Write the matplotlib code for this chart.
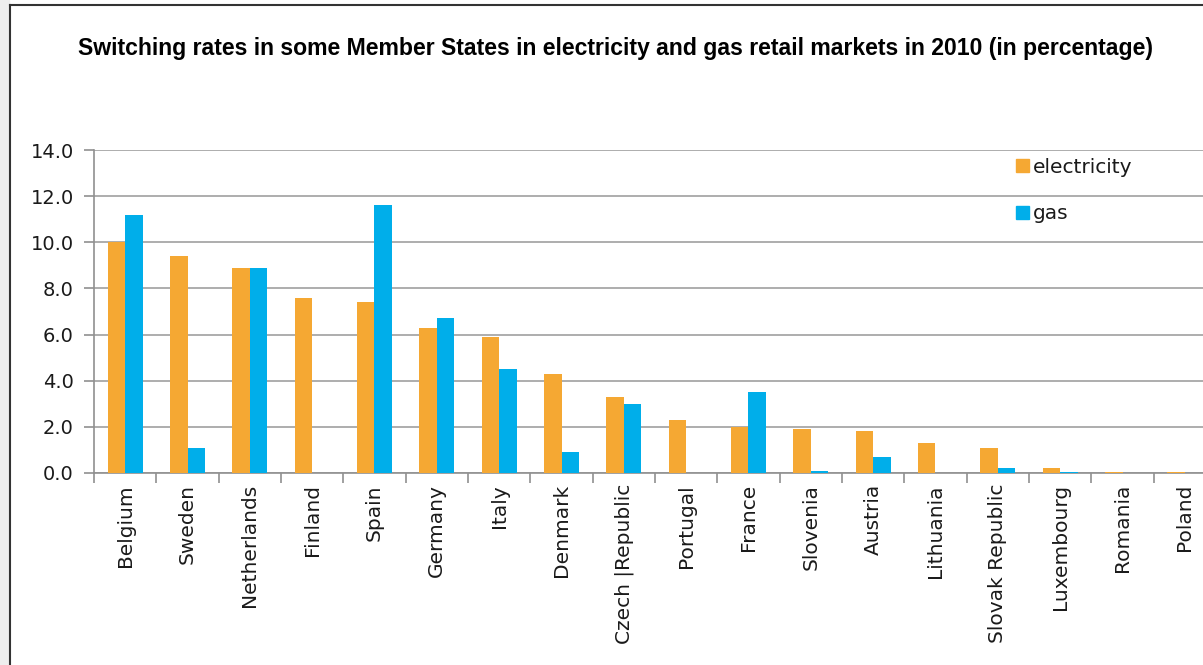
import matplotlib
matplotlib.use("Agg")
import matplotlib.pyplot as plt
import numpy as np
from matplotlib.lines import Line2D

countries = ["Belgium", "Sweden", "Netherlands", "Finland", "Spain", "Germany", "Italy",
             "Denmark", "Czech |Republic", "Portugal", "France", "Slovenia", "Austria",
             "Lithuania", "Slovak Republic", "Luxembourg", "Romania", "Poland"]
electricity = [10.0, 9.4, 8.9, 7.6, 7.4, 6.3, 5.9, 4.3, 3.3, 2.3, 2.0, 1.9, 1.8, 1.3, 1.1, 0.2, 0.05, 0.05]
gas = [11.2, 1.1, 8.9, 0.0, 11.6, 6.7, 4.5, 0.9, 3.0, 0.0, 3.5, 0.1, 0.7, 0.0, 0.2, 0.05, 0.0, 0.0]
yticks = [0, 2, 4, 6, 8, 10, 12, 14]

W, H = 1203, 665
fig = plt.figure(figsize=(W / 100, H / 100), dpi=100)
fig.patch.set_facecolor("white")

# axes: left 94px, right ~1216px, top 150px, bottom 473px
left, right, top, bottom = 94, 1216, 150, 473
ax = fig.add_axes([left / W, 1 - bottom / H, (right - left) / W, (bottom - top) / H])

x = np.arange(len(countries))
bw = 0.28
orange = "#F5A833"
blue = "#00AEEA"
ax.bar(x - bw / 2, electricity, width=bw, color=orange, label="electricity", zorder=3)
ax.bar(x + bw / 2, gas, width=bw, color=blue, label="gas", zorder=3)

ax.set_xlim(-0.5, len(countries) - 0.5)
ax.set_ylim(0, 14)
ax.set_yticks(yticks)
ax.set_yticklabels([f"{v:.1f}" for v in yticks], fontsize=14, family="DejaVu Sans", color="#1a1a1a")
ax.yaxis.grid(True, color="#a0a0a0", linewidth=1.2, zorder=0)
ax.tick_params(axis="y", length=7, color="#909090", width=1.2, pad=7.5)

ax.set_xticks(x)
ax.set_xticklabels(countries, rotation=90, fontsize=14.5, family="DejaVu Sans", color="#1a1a1a")
ax.set_xticks(np.arange(len(countries) + 1) - 0.5, minor=True)
ax.tick_params(axis="x", which="major", length=0, pad=8)
ax.tick_params(axis="x", which="minor", length=7, color="#909090", width=1.2)

for s in ["top", "right"]:
    ax.spines[s].set_visible(False)
for s in ["left", "bottom"]:
    ax.spines[s].set_color("#909090")
    ax.spines[s].set_linewidth(1.2)

fig.text(615 / W, 1 - 49 / H,
         "Switching rates in some Member States in electricity and gas retail markets in 2010 (in percentage)",
         ha="center", va="center", fontsize=16.6, fontweight="bold", family="Liberation Sans")

leg = fig.legend(handles=[plt.Rectangle((0, 0), 1, 1, color=orange), plt.Rectangle((0, 0), 1, 1, color=blue)],
                 labels=["electricity", "gas"], loc="upper left",
                 bbox_to_anchor=(1008 / W, 1 - 150 / H), frameon=False,
                 prop={"family": "DejaVu Sans", "size": 14.5}, handlelength=0.62, handleheight=0.62,
                 handletextpad=0.2, labelspacing=1.35, borderaxespad=0)
for t in leg.get_texts():
    t.set_color("#1a1a1a")

# frame border like screenshot
fig.add_artist(Line2D([10 / W, 10 / W], [0, 1 - 5 / H], color="#333333", linewidth=1.5, transform=fig.transFigure))
fig.add_artist(Line2D([10 / W, 1], [1 - 5 / H, 1 - 5 / H], color="#333333", linewidth=1.5, transform=fig.transFigure))
fig.add_artist(plt.Rectangle((0, 0), 9 / W, 1, color="#eeeeee", transform=fig.transFigure, zorder=-1))

fig.savefig("out.png", dpi=100)
